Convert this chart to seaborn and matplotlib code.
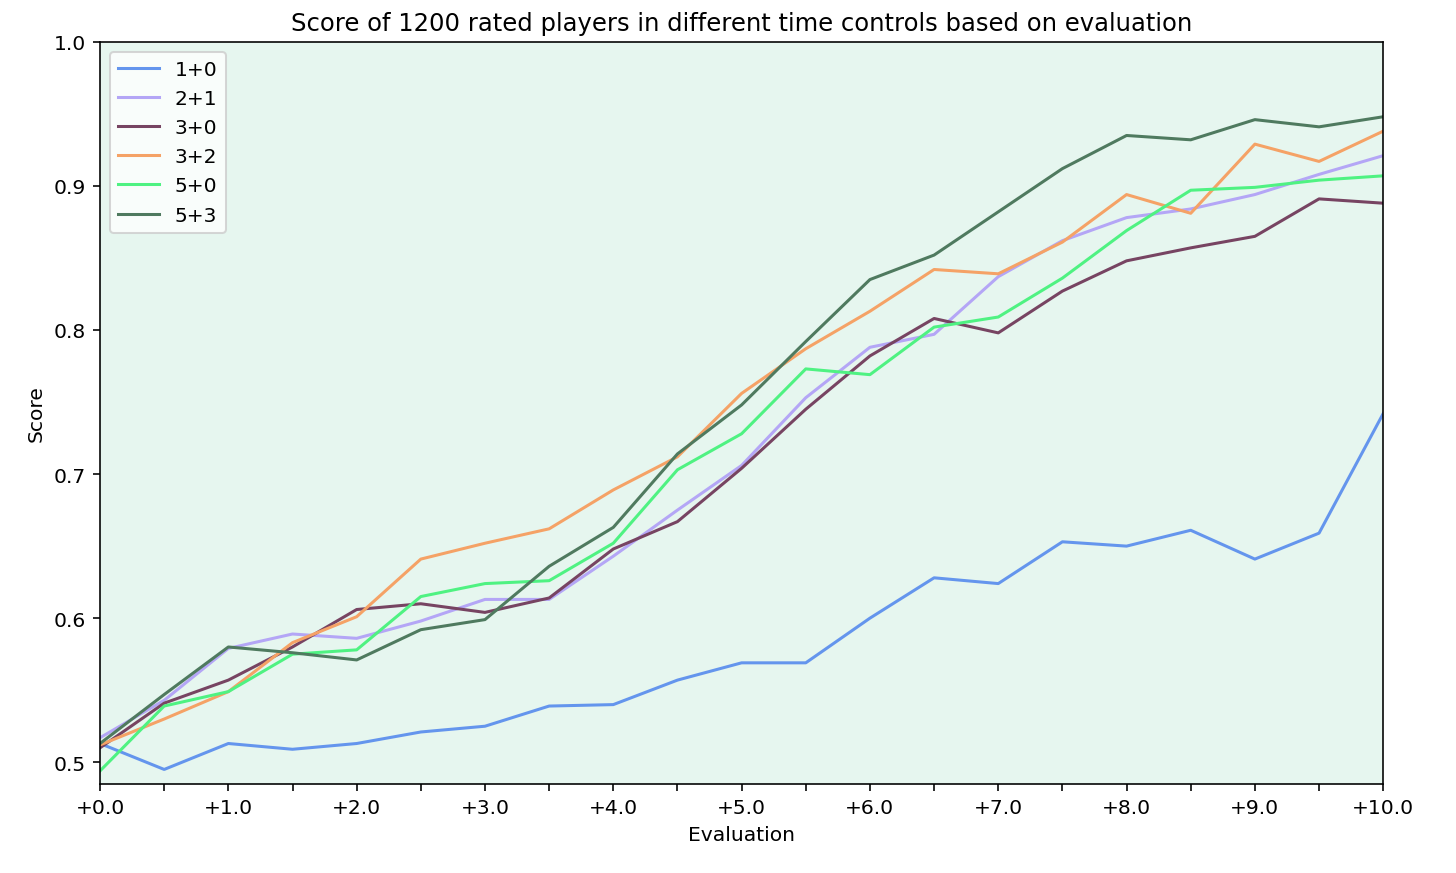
import numpy as np
import pandas as pd
import matplotlib
matplotlib.use("Agg")
import matplotlib.pyplot as plt
import seaborn as sns

evaluation = [0.0, 0.5, 1.0, 1.5, 2.0, 2.5, 3.0, 3.5, 4.0, 4.5, 5.0,
              5.5, 6.0, 6.5, 7.0, 7.5, 8.0, 8.5, 9.0, 9.5, 10.0]

score_1_0 = [0.513, 0.495, 0.513, 0.509, 0.513, 0.521, 0.525, 0.539, 0.540, 0.557, 0.569,
             0.569, 0.600, 0.628, 0.624, 0.653, 0.650, 0.661, 0.641, 0.659, 0.742]
score_2_1 = [0.517, 0.543, 0.579, 0.589, 0.586, 0.598, 0.613, 0.613, 0.643, 0.675, 0.706,
             0.753, 0.788, 0.797, 0.837, 0.862, 0.878, 0.884, 0.894, 0.908, 0.921]
score_3_0 = [0.510, 0.541, 0.557, 0.580, 0.606, 0.610, 0.604, 0.614, 0.648, 0.667, 0.704,
             0.745, 0.782, 0.808, 0.798, 0.827, 0.848, 0.857, 0.865, 0.891, 0.888]
score_3_2 = [0.512, 0.530, 0.549, 0.583, 0.601, 0.641, 0.652, 0.662, 0.689, 0.712, 0.756,
             0.787, 0.813, 0.842, 0.839, 0.861, 0.894, 0.881, 0.929, 0.917, 0.938]
score_5_0 = [0.494, 0.539, 0.549, 0.575, 0.578, 0.615, 0.624, 0.626, 0.652, 0.703, 0.728,
             0.773, 0.769, 0.802, 0.809, 0.836, 0.869, 0.897, 0.899, 0.904, 0.907]
score_5_3 = [0.513, 0.547, 0.580, 0.576, 0.571, 0.592, 0.599, 0.636, 0.663, 0.714, 0.748,
             0.792, 0.835, 0.852, 0.882, 0.912, 0.935, 0.932, 0.946, 0.941, 0.948]

time_controls = ["1+0", "2+1", "3+0", "3+2", "5+0", "5+3"]
colors = ["#6495ed", "#b4a6f6", "#774462", "#f5a266", "#4ff282", "#4f7a5f"]

series = [score_1_0, score_2_1, score_3_0, score_3_2, score_5_0, score_5_3]
df = pd.concat(
    [pd.DataFrame({"Evaluation": evaluation, "Score": s, "tc": tc})
     for tc, s in zip(time_controls, series)],
    ignore_index=True,
)

plt.rcParams["font.family"] = ["DejaVu Sans"]

fig, ax = plt.subplots(figsize=(10, 6.0027), dpi=145.6)
fig.subplots_adjust(left=0.0687, right=0.950, top=0.951, bottom=0.102)

sns.lineplot(data=df, x="Evaluation", y="Score", hue="tc",
             palette=dict(zip(time_controls, colors)), linewidth=1.5, ax=ax)

ax.set_facecolor("#e6f6ef")
ax.set_xlim(0, 10)
ax.set_ylim(0.485, 1.0)
ax.set_xticks(evaluation)
ax.set_xticklabels([f"+{v:.1f}" if v == int(v) else "" for v in evaluation])
ax.set_yticks([0.5, 0.6, 0.7, 0.8, 0.9, 1.0])
ax.set_title("Score of 1200 rated players in different time controls based on evaluation")
ax.set_xlabel("Evaluation")
ax.set_ylabel("Score")
ax.legend(loc="upper left", title=None)

fig.savefig("out.png", dpi=145.6)
